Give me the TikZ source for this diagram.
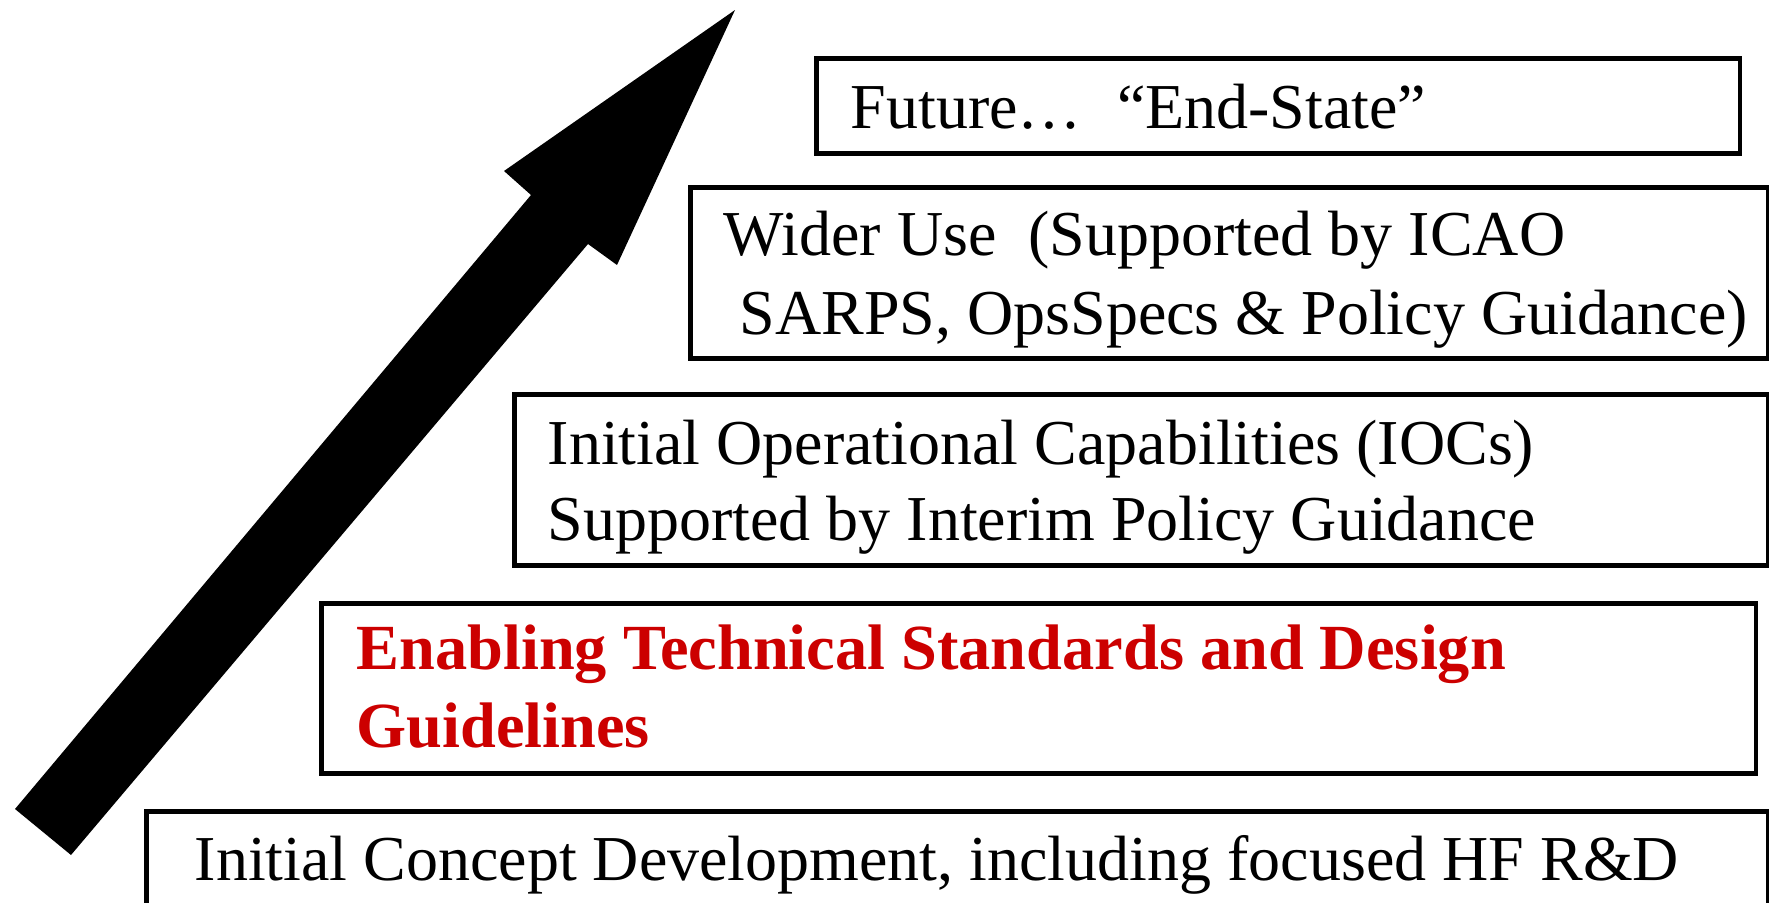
\documentclass[tikz,border=0pt]{standalone}
\usepackage{fontspec}
\setmainfont{Liberation Serif}
\usepackage{xcolor}
\definecolor{stagered}{RGB}{204,0,0}
\usetikzlibrary{positioning}

\tikzset{
  stagebox/.style={draw, line width=1.3pt, anchor=north west, inner sep=0pt},
  stagetext/.style={anchor=base west, inner sep=0pt, font=\fontsize{18.2}{22}\selectfont},
  keytext/.style={stagetext, font=\fontsize{18.3}{22}\selectfont\bfseries, text=stagered},
}

\begin{document}
\begin{tikzpicture}[x=0.01cm, y=-0.01cm]
    \useasboundingbox (0,0) rectangle (1769,903);

    % 上向きの矢印
    \fill (15,809) -- (531,195) -- (504,171) -- (735,10) -- (617,265)
          -- (588,244) -- (71,855) -- cycle;

    % 段の枠
    \node[stagebox, minimum width=9.23cm, minimum height=0.95cm] (future) at (814,56) {};
    \node[stagebox, minimum width=10.77cm, minimum height=1.71cm] (wider) at (688,185) {};
    \node[stagebox, minimum width=12.53cm, minimum height=1.71cm] (ioc) at (512,392) {};
    \node[stagebox, minimum width=14.34cm, minimum height=1.70cm] (enabling) at (319,601) {};
    \node[stagebox, minimum width=16.21cm, minimum height=0.97cm] (concept) at (144,809) {};

    % ラベル
    \node[stagetext] (futuretxt) at (850,128) {Future…\hspace{0.3em} “End-State”};
    \node[stagetext] (widertxt) at (723,255) {Wider Use\ \ (Supported by ICAO};
    \node[stagetext] (widertxtb) at (739,334) {SARPS, OpsSpecs \& Policy Guidance)};
    \node[stagetext] (ioctxt) at (547,464) {Initial Operational Capabilities (IOCs)};
    \node[stagetext] (ioctxtb) at (547,540) {Supported by Interim Policy Guidance};
    \node[keytext] (enablingtxt) at (356,669) {Enabling Technical Standards and Design};
    \node[keytext] (enablingtxtb) at (356,747) {Guidelines};
    \node[stagetext] (concepttxt) at (194,880) {Initial Concept Development, including focused HF R\&D};
\end{tikzpicture}
\end{document}
